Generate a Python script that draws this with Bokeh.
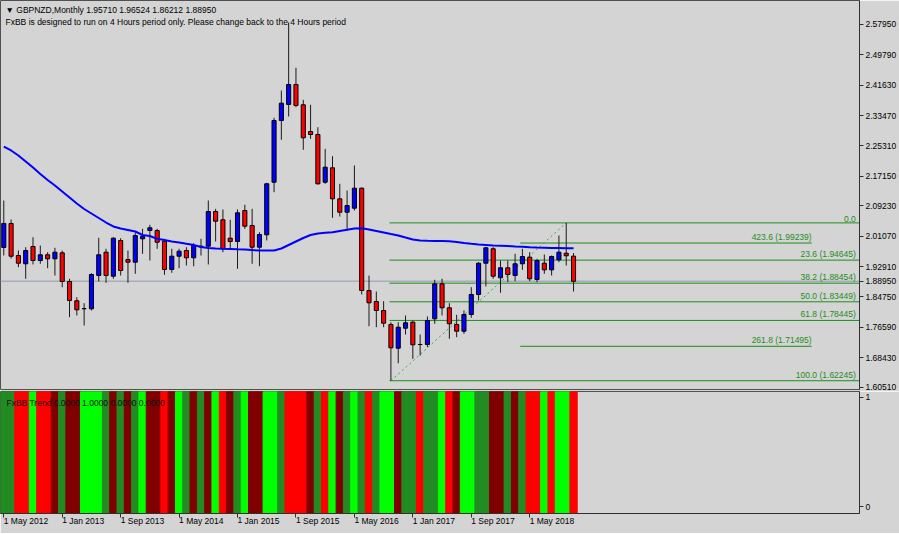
import pandas as pd
from bokeh.plotting import figure
from bokeh.layouts import column
from bokeh.models import (Range1d, FixedTicker, Label, ColumnDataSource, Span,
                          PrintfTickFormatter)
from bokeh.core.properties import value
from bokeh.embed import file_html
from bokeh.resources import INLINE

# ---------------- data ----------------
symbol = "GBPNZD,Monthly"
months = pd.date_range("2012-05-01", periods=79, freq="MS")

opens = [1.9804, 2.0449, 1.9589, 1.9366, 1.9831, 1.9454, 1.9608, 1.9500, 1.9661, 1.8890,
         1.8372, 1.8160, 1.8157, 1.9051, 1.9677, 1.9033, 1.9992, 1.9481, 1.9409, 2.0037,
         2.0260, 2.0260, 1.9973, 1.9213, 1.9570, 1.9723, 1.9527, 1.9822, 1.9839, 2.0771,
         2.0548, 2.0054, 1.9965, 2.0798, 2.0395, 1.9812, 2.0145, 2.1558, 2.3216, 2.3646,
         2.4183, 2.3638, 2.2920, 2.2840, 2.1558, 2.1945, 2.1112, 2.0752, 2.0860, 2.1397,
         1.8648, 1.8353, 1.8111, 1.7735, 1.7098, 1.7636, 1.7797, 1.7198, 1.7198, 1.7888,
         1.8828, 1.8184, 1.7735, 1.7555, 1.8004, 1.8541, 1.9382, 1.9769, 1.8990, 1.9258,
         1.9051, 1.9366, 1.9543, 1.8944, 1.9382, 1.9204, 1.9473, 1.9650, 1.95710]
highs = [2.1066, 2.0556, 1.9723, 1.9812, 2.0080, 1.9857, 1.9677, 1.9796, 1.9723, 1.8963,
         1.8468, 1.8307, 1.9113, 2.0064, 1.9769, 2.0080, 2.0054, 1.9723, 2.0199, 2.0306,
         2.0414, 2.0306, 2.0037, 1.9769, 1.9769, 1.9812, 1.9919, 2.0037, 2.1066, 2.0843,
         2.0825, 2.0548, 2.0825, 2.0951, 2.0843, 2.0215, 2.1542, 2.3288, 2.4022, 2.5849,
         2.4632, 2.3772, 2.3638, 2.3036, 2.2455, 2.2257, 2.1515, 2.1335, 2.2007, 2.1416,
         1.9051, 1.8621, 1.8361, 1.7797, 1.7797, 1.7977, 1.7842, 1.7466, 1.7950, 1.8936,
         1.8963, 1.8307, 1.7996, 1.8111, 1.8737, 1.9409, 1.9812, 1.9812, 1.9454, 1.9454,
         1.9634, 1.9769, 1.9677, 1.9500, 1.9616, 1.9589, 2.0126, 2.04652, 1.96524]
lows = [1.9589, 1.9508, 1.9274, 1.8963, 1.9347, 1.9366, 1.9247, 1.9051, 1.8737, 1.7931,
        1.7977, 1.7708, 1.8111, 1.8890, 1.8855, 1.8963, 1.9051, 1.8855, 1.9097, 1.9634,
        1.9454, 1.9769, 1.9070, 1.9124, 1.9247, 1.9320, 1.9301, 1.9589, 1.9347, 1.9965,
        1.9677, 1.9785, 1.9231, 2.0306, 1.9366, 1.9301, 1.9992, 2.1289, 2.2697, 2.3323,
        2.3573, 2.2429, 2.2724, 2.1496, 2.1515, 2.0602, 2.0636, 2.0260, 2.0798, 1.8541,
        1.7689, 1.7662, 1.7662, 1.62245, 1.6695, 1.7466, 1.6813, 1.6902, 1.7125, 1.7754,
        1.7977, 1.7351, 1.7394, 1.7485, 1.7915, 1.8380, 1.8756, 1.8963, 1.8587, 1.8871,
        1.8898, 1.9204, 1.8898, 1.8871, 1.9097, 1.9051, 1.9409, 1.9320, 1.86212]
closes = [2.0449, 1.9570, 1.9382, 1.9723, 1.9454, 1.9608, 1.9500, 1.9677, 1.8890, 1.8380,
          1.8130, 1.8160, 1.9078, 1.9608, 1.9051, 2.0054, 1.9186, 1.9409, 2.0126, 2.0107,
          2.0333, 1.9946, 1.9213, 1.9570, 1.9704, 1.9527, 1.9857, 1.9839, 2.0771, 2.0510,
          1.9769, 1.9965, 2.0736, 2.0376, 1.9812, 2.0153, 2.1515, 2.3216, 2.3681, 2.4183,
          2.3619, 2.2751, 2.2840, 2.1515, 2.1961, 2.1112, 2.0752, 2.0932, 2.1397, 1.8648,
          1.8318, 1.8111, 1.7770, 1.7109, 1.7662, 1.7781, 1.7190, 1.7198, 1.7842, 1.8828,
          1.8184, 1.7754, 1.7555, 1.8004, 1.8541, 1.9382, 1.9796, 1.9033, 1.9258, 1.9078,
          1.9366, 1.9562, 1.8963, 1.9454, 1.9204, 1.9562, 1.9677, 1.9581, 1.88950]
ma_values = [2.2517, 2.2410, 2.2275, 2.2114, 2.1953, 2.1778, 2.1617, 2.1469, 2.1308, 2.1147,
             2.0986, 2.0838, 2.0717, 2.0596, 2.0475, 2.0368, 2.0314, 2.0274, 2.0233, 2.0139,
             2.0113, 2.0037, 2.0005, 1.9965, 1.9938, 1.9903, 1.9871, 1.9817, 1.9790, 1.9777,
             1.9769, 1.9763, 1.9755, 1.9750, 1.9736, 1.9723, 1.9723, 1.9723, 1.9777, 1.9871,
             1.9965, 2.0059, 2.0139, 2.0180, 2.0199, 2.0215, 2.0247, 2.0279, 2.0314, 2.0322,
             2.0287, 2.0247, 2.0207, 2.0166, 2.0126, 2.0072, 2.0019, 1.9992, 1.9986, 1.9981,
             1.9978, 1.9973, 1.9951, 1.9925, 1.9903, 1.9884, 1.9871, 1.9857, 1.9852, 1.9844,
             1.9831, 1.9823, 1.9812, 1.9804, 1.9798, 1.9790, 1.9790, 1.9785, 1.9785]
# FxBB trend state per bar: F=forest green, R=red, L=lime, M=maroon
trend_state = ["F", "F", "R", "R", "L", "R", "R", "M", "F", "M",
               "M", "L", "L", "L", "F", "M", "F", "M", "F", "L",
               "M", "M", "R", "M", "L", "F", "M", "F", "M", "L",
               "R", "M", "F", "L", "M", "M", "L", "L", "F", "R",
               "R", "R", "M", "F", "R", "L", "M", "F", "L", "F",
               "R", "F", "L", "L", "M", "F", "F", "R", "F", "F",
               "L", "R", "M", "L", "L", "F", "F", "M", "M", "F",
               "M", "F", "R", "R", "L", "R", "L", "L", "R"]

price_ticks = [2.5795, 2.4979, 2.4163, 2.3347, 2.2531, 2.1715, 2.0923,
               2.0107, 1.9291, 1.8475, 1.7659, 1.6843, 1.6051]

fib_labels = ["0.0", "23.6 (1.94645)", "38.2 (1.88454)", "50.0 (1.83449)",
              "61.8 (1.78445)", "100.0 (1.62245)"]
fib_prices = [2.04652, 1.94645, 1.88454, 1.83449, 1.78445, 1.62245]
fib_ext_labels = ["423.6 (1.99239)", "261.8 (1.71495)"]
fib_ext_prices = [1.99239, 1.71495]
fib_start, fib_ext_start, fib_ext_end = 52.8, 70.7, 110.6
swing_low_bar, swing_high_bar = 53, 77

# ---------------- style ----------------
BG = "#D4D4D4"
FONT = "Liberation Sans"
FS = "8.5px"
FIB = "#1E8C1E"
W = 899
AX_W = 37
MAIN_H = 391
LOW_H = 142
MAIN_FRAME_H = MAIN_H - 2
LOW_FRAME_H = LOW_H - 19

n = len(opens)
idx = list(range(n))
xr = Range1d(-0.45, 117.15)


def base_fig(height, y_range, **kw):
    f = figure(width=W, height=height, x_range=xr, y_range=y_range,
               output_backend="svg", toolbar_location=None, min_border_left=0,
               min_border_right=AX_W, min_border_top=0, **kw)
    f.background_fill_color = BG
    f.border_fill_color = BG
    f.outline_line_color = "#505050"
    f.grid.visible = False
    return f


def style_axis(ax):
    ax.major_label_text_font = FONT
    ax.major_label_text_font_size = FS
    ax.major_label_text_color = "black"
    ax.major_tick_out = 4
    ax.major_tick_in = 0
    ax.minor_tick_out = 0
    ax.minor_tick_in = 0
    ax.major_label_standoff = 2
    ax.axis_line_color = "#303030"
    ax.major_tick_line_color = "#303030"


p = base_fig(MAIN_H, Range1d(1.59886, 2.64398), x_axis_location=None,
             y_axis_location="right", min_border_bottom=2)
ya = p.yaxis[0]
last_price = closes[-1]
ya.ticker = FixedTicker(ticks=price_ticks + [last_price])
ya.formatter = PrintfTickFormatter(format="%.5f")
style_axis(ya)

# current price line
p.add_layout(Span(location=last_price, dimension="width", line_color="#A6AEB8",
                  line_width=1.5, level="underlay"))

# fibonacci levels
p.segment(x0=[fib_start] * len(fib_prices), y0=fib_prices, x1=[xr.end] * len(fib_prices),
          y1=fib_prices, line_color=FIB, line_width=1)
p.segment(x0=[fib_ext_start] * 2, y0=fib_ext_prices, x1=[fib_ext_end] * 2,
          y1=fib_ext_prices, line_color=FIB, line_width=1)
p.text(x=[xr.end - 0.5] * len(fib_prices), y=fib_prices, text=fib_labels,
       text_align="right", text_baseline="bottom", text_color=FIB,
       text_font=value(FONT), text_font_size=FS, y_offset=-1)
p.text(x=[fib_ext_end] * 2, y=fib_ext_prices, text=fib_ext_labels,
       text_align="right", text_baseline="bottom", text_color=FIB,
       text_font=value(FONT), text_font_size=FS, y_offset=-1)
p.line(x=[swing_low_bar, swing_high_bar], y=[lows[swing_low_bar], highs[swing_high_bar]],
       line_color="#3EA83E", line_width=1, line_dash="2 3")

# candles
src = ColumnDataSource(dict(
    x=idx, o=opens, h=highs, l=lows, c=closes,
    top=[max(a, b) for a, b in zip(opens, closes)],
    bot=[min(a, b) for a, b in zip(opens, closes)],
    col=["#0000FF" if c >= o else "#FF0000" for o, c in zip(opens, closes)],
))
p.segment(x0="x", y0="l", x1="x", y1="h", source=src, line_color="#1A1A1A", line_width=1)
p.vbar(x="x", width=0.56, top="top", bottom="bot", fill_color="col",
       line_color="black", line_width=1, source=src)

# moving average
p.line(x=idx, y=ma_values, line_color="#0000FF", line_width=2)

# texts
p.add_layout(Label(x=5, y=MAIN_FRAME_H - 9, x_units="screen", y_units="screen",
                   text="\u25BC " + symbol + "  " + " ".join(f"{v:.5f}" for v in
                        (opens[-1], highs[-1], lows[-1], closes[-1])),
                   text_font=FONT, text_font_size=FS, text_color="black",
                   text_baseline="middle"))
p.add_layout(Label(x=5, y=MAIN_FRAME_H - 21, x_units="screen", y_units="screen",
                   text="FxBB is designed to run on 4 Hours period only. "
                        "Please change back to the 4 Hours period",
                   text_font=FONT, text_font_size=FS, text_color="black",
                   text_baseline="middle"))

# ---------------- trend panel ----------------
q = base_fig(LOW_H, Range1d(-0.063, 1.054), y_axis_location="right",
             min_border_bottom=19)
palette = {"F": "#228B22", "R": "#FF0000", "L": "#00FF00", "M": "#800000"}
tcols = [palette[s] for s in trend_state]
q.vbar(x=idx, width=1.0, bottom=q.y_range.start, top=q.y_range.end,
       fill_color=tcols, line_color=tcols, line_width=1)
q.add_layout(Label(x=6, y=LOW_FRAME_H - 12, x_units="screen", y_units="screen",
                   text="FxBB Trend 0.0000 1.0000 0.0000 0.0000",
                   text_font=FONT, text_font_size=FS, text_color="#101010",
                   text_baseline="middle"))
qy = q.yaxis[0]
qy.ticker = FixedTicker(ticks=[0, 1])
qy.major_label_overrides = {0: "0", 1: "1"}
style_axis(qy)
qx = q.xaxis[0]
tick_idx = list(range(0, n, 8))
qx.ticker = FixedTicker(ticks=tick_idx)
qx.major_label_overrides = {i: f"1 {months[i]:%b %Y}" for i in tick_idx}
style_axis(qx)
# tiny negative angle: labels start at their tick (left aligned), as in the terminal
qx.major_label_orientation = -0.0001
qx.major_label_standoff = 3

layout = column(p, q, spacing=0)
open("out.html", "w").write(file_html(layout, INLINE, title="GBPNZD Monthly"))
